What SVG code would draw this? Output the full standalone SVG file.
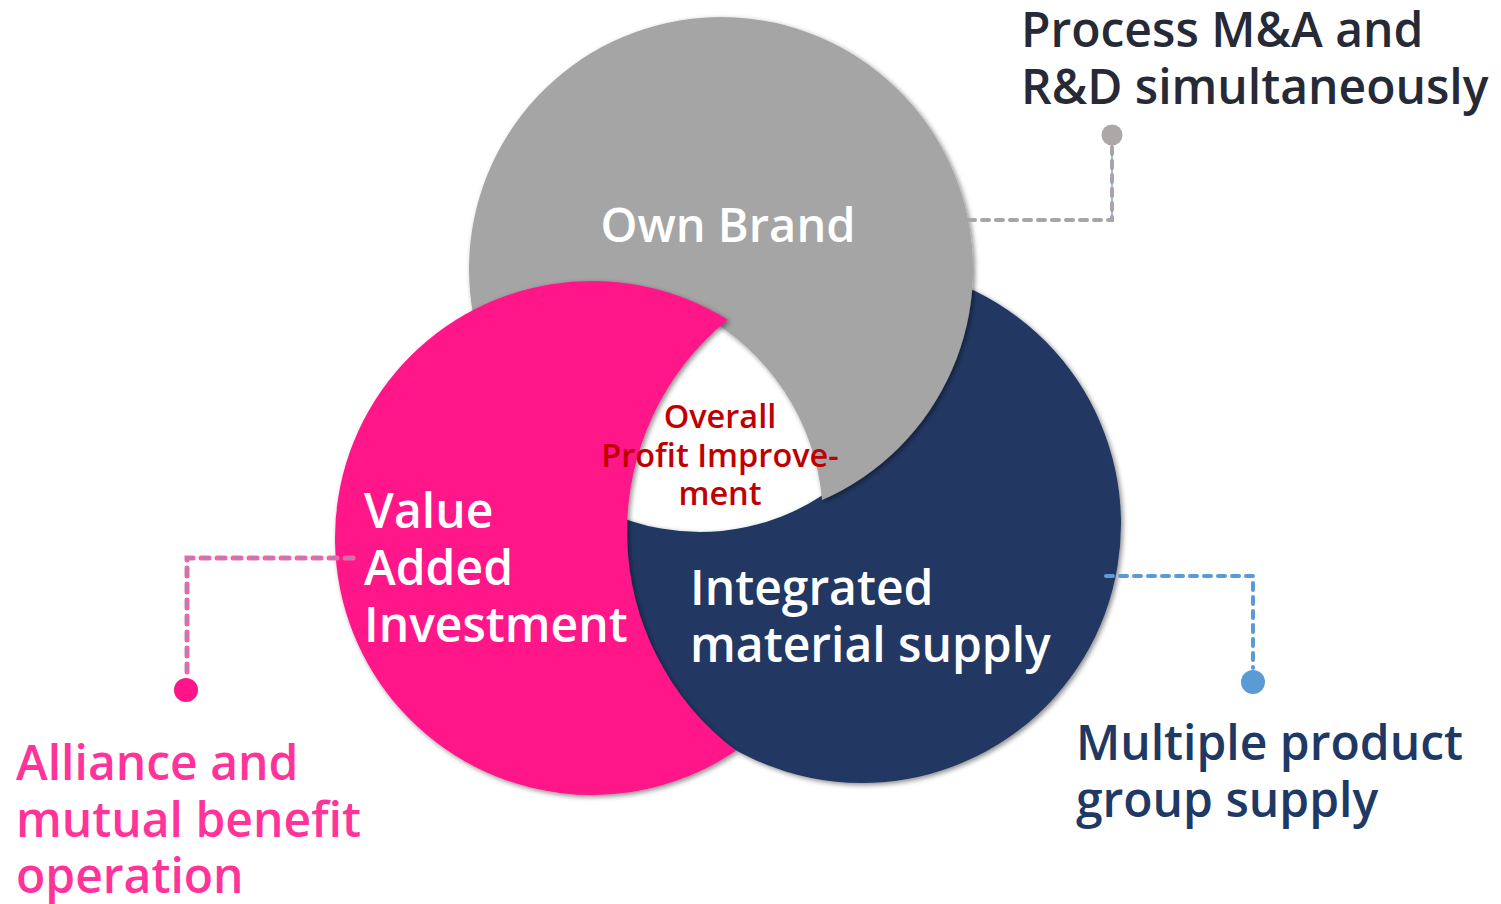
<svg xmlns="http://www.w3.org/2000/svg" width="1501" height="904" viewBox="0 0 1501 904">
  <defs>
    <filter id="shadow" x="-10%" y="-10%" width="120%" height="120%">
      <feDropShadow dx="2" dy="2" stdDeviation="2.5" flood-color="#000" flood-opacity="0.45"/>
    </filter>
    <style>
      .lbl { font-family: "Open Sans", "Noto Sans", "Liberation Sans", sans-serif; font-size: 48px; font-weight: 600; }
      .in { fill: #FFFFFF; }
      .brand { font-size: 47px; }
      .core { font-family: "Open Sans", "Noto Sans", "Liberation Sans", sans-serif; font-size: 32.5px; font-weight: 600; fill: #C00000; text-anchor: middle; }
      .dash-gray { fill: none; stroke: #A9A5A5; stroke-width: 4; stroke-dasharray: 7 7; stroke-linecap: round; }
      .dash-pink { fill: none; stroke: #F4669F; stroke-width: 5; stroke-dasharray: 8 8; stroke-linecap: round; }
      .dash-pink-core { fill: none; stroke: #8C8FC4; stroke-width: 1.5; stroke-dasharray: 8 8; }
      .dash-blue { fill: none; stroke: #5B9BD5; stroke-width: 4; stroke-dasharray: 7 7; stroke-linecap: round; }
      .dash-blue-thin { fill: none; stroke: #5B9BD5; stroke-width: 1.2; stroke-dasharray: 5 9; }
    </style>
  </defs>
  <rect width="1501" height="904" fill="#FFFFFF"/>

  <!-- crescents: navy at the bottom, gray above it, pink on top -->
  <g id="node-material" filter="url(#shadow)">
    <path fill="#203864" d="M918.6,271.3 A259,259 0 1 1 603.4,509.9 A222,222 0 0 0 918.6,271.3 Z"/>
  </g>
  <g id="node-brand" filter="url(#shadow)">
    <path fill="#A5A5A5" d="M822.1,499.9 A252,252 0 1 0 473.1,314.3 A236,236 0 0 1 822.1,499.9 Z"/>
  </g>
  <g id="node-investment" filter="url(#shadow)">
    <path fill="#FF1589" d="M727.7,319.75 A257,257 0 1 0 736.1,750.8 A274,274 0 0 1 727.7,319.75 Z"/>
  </g>

  <!-- connectors: dashed elbow leaders ending in dots, drawn over the crescent rims -->
  <g id="connectors">
    <path class="dash-gray" d="M968,220 H1112 V146"/>
    <path class="dash-blue-thin" d="M1112,216 V146"/>
    <circle cx="1112" cy="135" r="10.5" fill="#ADA8A8"/>

    <path class="dash-pink" d="M353,558 H187 V678"/>
    <path class="dash-pink-core" d="M353,558 H187 V678"/>
    <circle cx="186" cy="690" r="12" fill="#FF1589"/>

    <path class="dash-blue" d="M1106,576 H1253 V668"/>
    <circle cx="1253" cy="682" r="12" fill="#5B9BD5"/>
  </g>

  <!-- labels inside the crescents -->
  <g id="label-brand">
    <text class="lbl in brand" x="728" y="242" text-anchor="middle">Own Brand</text>
  </g>
  <g id="label-investment">
    <text class="lbl in" x="364" y="528">Value</text>
    <text class="lbl in" x="364" y="585">Added</text>
    <text class="lbl in" x="364" y="642">Investment</text>
  </g>
  <g id="label-material">
    <text class="lbl in" x="690" y="605">Integrated</text>
    <text class="lbl in" x="690" y="662">material supply</text>
  </g>
  <g id="label-core">
    <text class="core" x="720" y="428">Overall</text>
    <text class="core" x="720" y="467">Profit Improve-</text>
    <text class="core" x="720" y="505">ment</text>
  </g>

  <!-- outer callouts -->
  <g id="callout-rd">
    <text class="lbl" x="1021" y="47" fill="#262A36">Process M&amp;A and</text>
    <text class="lbl" x="1021" y="104" fill="#262A36">R&amp;D simultaneously</text>
  </g>
  <g id="callout-product">
    <text class="lbl" x="1076" y="760" fill="#203864">Multiple product</text>
    <text class="lbl" x="1076" y="817" fill="#203864">group supply</text>
  </g>
  <g id="callout-alliance">
    <text class="lbl" x="16" y="780" fill="#FF3399">Alliance and</text>
    <text class="lbl" x="16" y="837" fill="#FF3399">mutual benefit</text>
    <text class="lbl" x="16" y="893" fill="#FF3399">operation</text>
  </g>
</svg>
